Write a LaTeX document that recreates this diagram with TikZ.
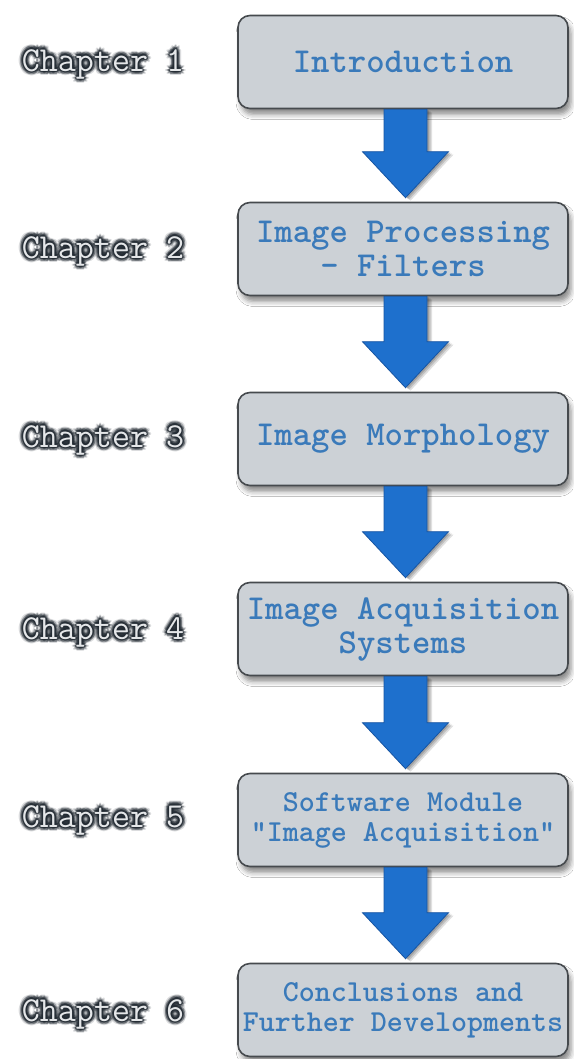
\documentclass[tikz,border=0pt]{standalone}
\usepackage{fontspec}
\usetikzlibrary{calc,shadows.blur}

\definecolor{boxfill}{RGB}{204,209,214}
\definecolor{boxedge}{RGB}{70,74,78}
\definecolor{boxtext}{RGB}{58,122,186}
\definecolor{arrowblue}{RGB}{30,112,205}
\definecolor{arrowedge}{RGB}{22,84,162}
\definecolor{halocol}{RGB}{34,42,50}
\definecolor{chaptext}{RGB}{228,230,232}

\tikzset{
  stage/.style={draw=boxedge, line width=1.6pt, rounded corners=12pt, fill=boxfill,
    minimum width=330pt, minimum height=93pt, inner sep=2pt, align=center,
    font=\ttfamily\bfseries\fontsize{35}{34}\selectfont, text=boxtext,
    blur shadow={shadow xshift=3pt, shadow yshift=-6pt, shadow blur radius=5pt, shadow opacity=45}},
  smallstage/.style={stage, font=\ttfamily\bfseries\fontsize{30.5}{30}\selectfont},
  chapter/.style={font=\ttfamily\fontsize{35}{34}\selectfont, text=chaptext, inner sep=0pt},
  haloglyph/.style={chapter, text=halocol, text opacity=#1},
  flowarrow/.style={fill=arrowblue, draw=arrowedge, line width=0.8pt, line join=miter},
  arrowshade/.style={fill=black, fill opacity=#1, draw=none},
}

% outline of a block arrow from the bottom of one stage to the top of the next,
% shifted by (#3,#4)
\newcommand\arrowoutline[4]{%
  ($(#1.south)+(-19+#3,0+#4)$) -- ($(#2.north)+(-19+#3,-50+#4)$) -- ($(#2.north)+(-40.5+#3,-50+#4)$)
    -- ($(#2.north)+(2.5+#3,-4+#4)$)
    -- ($(#2.north)+(45.5+#3,-50+#4)$) -- ($(#2.north)+(24+#3,-50+#4)$) -- ($(#1.south)+(24+#3,0+#4)$) -- cycle
}
\newcommand\flowdown[2]{%
  \fill[arrowshade=0.12] \arrowoutline{#1}{#2}{5}{3};
  \fill[arrowshade=0.14] \arrowoutline{#1}{#2}{3.5}{2};
  \fill[arrowshade=0.16] \arrowoutline{#1}{#2}{2}{1};
  \filldraw[flowarrow] \arrowoutline{#1}{#2}{0}{0};
}

% chapter caption: light letters inside a dark soft halo
\newcommand\chapterlabel[3]{%
  \foreach \r/\o in {4.6/0.16, 3.1/0.35, 1.6/0.6}{
    \foreach \ang in {0,45,...,315}{
      \node[haloglyph=\o] at ($(#2)+(\ang:\r)$) {#3};
    }
  }
  \node[chapter] (#1) at (#2) {#3};
}

\begin{document}
\begin{tikzpicture}[x=1pt, y=-1pt]
  \useasboundingbox (0,0) rectangle (573,1059);
  \fill[white] (0,0) rectangle (573,1059);

  % stages
  \node[stage] (intro)  at (403,62)  {Introduction};
  \node[stage] (filters) at (403,249) {Image Processing\\- Filters};
  \node[stage] (morph)  at (403,439) {Image Morphology};
  \node[stage] (acq)    at (403,629) {Image Acquisition\\Systems};
  \node[smallstage] (module) at (403,820) {Software Module\\“Image Acquisition”};
  \node[smallstage] (concl)  at (403,1010) {Conclusions and\\Further Developments};

  % arrows between the stages
  \flowdown{intro}{filters}
  \flowdown{filters}{morph}
  \flowdown{morph}{acq}
  \flowdown{acq}{module}
  \flowdown{module}{concl}

  % chapter captions
  \chapterlabel{ch1}{103,64}{Chapter 1}
  \chapterlabel{ch2}{103,251}{Chapter 2}
  \chapterlabel{ch3}{103,440}{Chapter 3}
  \chapterlabel{ch4}{103,632}{Chapter 4}
  \chapterlabel{ch5}{103,820}{Chapter 5}
  \chapterlabel{ch6}{103,1014}{Chapter 6}
\end{tikzpicture}
\end{document}
